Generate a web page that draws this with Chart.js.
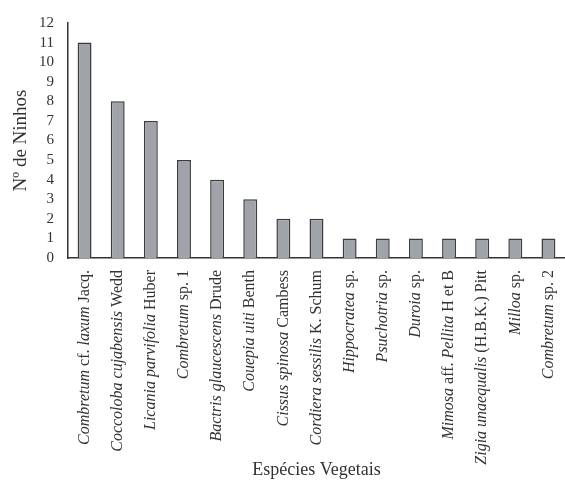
<!DOCTYPE html>
<html>
<head>
<meta charset="utf-8">
<script src="https://cdn.jsdelivr.net/npm/chart.js@4"></script>
<style>
  body { margin: 0; background: #fff; }
  #wrap { width: 565px; height: 481px; }
</style>
</head>
<body>
<div id="wrap"><canvas id="myChart" width="565" height="481"></canvas></div>
<script>
// _text_ = italic part of the species name
const species = [
    '_Combretum_ cf. _laxum_ Jacq.',
    '_Coccoloba cujabensis_ Wedd',
    '_Licania parvifolia_ Huber',
    '_Combretum_ sp. 1',
    '_Bactris glaucescens_ Drude',
    '_Couepia uiti_ Benth',
    '_Cissus spinosa_ Cambess',
    '_Cordiera sessilis_ K. Schum',
    '_Hippocratea_ sp.',
    '_Psuchotria_ sp.',
    '_Duroia_ sp.',
    '_Mimosa_ aff. _Pellita_ H et B',
    '_Zigia unaequalis_ (H.B.K.) Pitt',
    '_Milloa_ sp.',
    '_Combretum_ sp. 2'
];
const nests = [11, 8, 7, 5, 4, 3, 2, 2, 1, 1, 1, 1, 1, 1, 1];
const yTicks = [0, 1, 2, 3, 4, 5, 6, 7, 8, 9, 10, 11, 12];

const serif = "'Liberation Serif', 'DejaVu Serif', serif";
const labelSize = 16;

// draw rotated species labels with mixed italic / roman parts
const speciesLabels = {
    id: 'speciesLabels',
    afterDraw(chart) {
        const ctx = chart.ctx;
        const xs = chart.scales.x;
        const top = chart.chartArea.bottom + 12;
        ctx.save();
        ctx.fillStyle = '#333';
        ctx.textBaseline = 'middle';
        ctx.textAlign = 'left';
        species.forEach((name, i) => {
            const parts = name.split('_').map((t, k) => ({ t, italic: k % 2 === 1 })).filter(p => p.t);
            let total = 0;
            parts.forEach(p => {
                ctx.font = (p.italic ? 'italic ' : '') + labelSize + 'px ' + serif;
                p.w = ctx.measureText(p.t).width;
                total += p.w;
            });
            ctx.save();
            ctx.translate(xs.getPixelForValue(i), top);
            ctx.rotate(-Math.PI / 2);
            let x = -total;
            parts.forEach(p => {
                ctx.font = (p.italic ? 'italic ' : '') + labelSize + 'px ' + serif;
                ctx.fillText(p.t, x, 0);
                x += p.w;
            });
            ctx.restore();
        });
        ctx.restore();
    }
};

new Chart(document.getElementById('myChart'), {
    type: 'bar',
    data: {
        labels: species,
        datasets: [{
            data: nests,
            backgroundColor: '#a0a3aa',
            borderColor: '#3c3c3c',
            borderWidth: 1.5,
            borderSkipped: 'bottom',
            barPercentage: 0.42,
            categoryPercentage: 1
        }]
    },
    options: {
        responsive: false,
        animation: false,
        layout: { padding: { top: 18, right: 0, left: 0, bottom: 0 } },
        plugins: {
            legend: { display: false },
            tooltip: { enabled: false }
        },
        scales: {
            x: {
                grid: { display: false, drawTicks: false },
                border: { display: true, color: '#333', width: 1.5 },
                ticks: { display: false },
                afterFit: (scale) => { scale.height = 223; },
                title: {
                    display: true,
                    text: 'Espécies Vegetais',
                    color: '#333',
                    font: { family: serif, size: 18 },
                    padding: { top: 0, bottom: 0 }
                }
            },
            y: {
                min: 0,
                max: 12,
                grid: { display: false, drawTicks: false },
                border: { display: true, color: '#333', width: 1.5 },
                afterFit: (scale) => { scale.width = 68; },
                afterBuildTicks: (scale) => { scale.ticks = yTicks.map(v => ({ value: v })); },
                ticks: {
                    color: '#333',
                    padding: 14,
                    autoSkip: false,
                    font: { family: serif, size: 15 }
                },
                title: {
                    display: true,
                    text: 'Nº de Ninhos',
                    color: '#333',
                    font: { family: serif, size: 19 },
                    padding: { top: 10, bottom: 0 }
                }
            }
        }
    },
    plugins: [speciesLabels]
});
</script>
</body>
</html>
